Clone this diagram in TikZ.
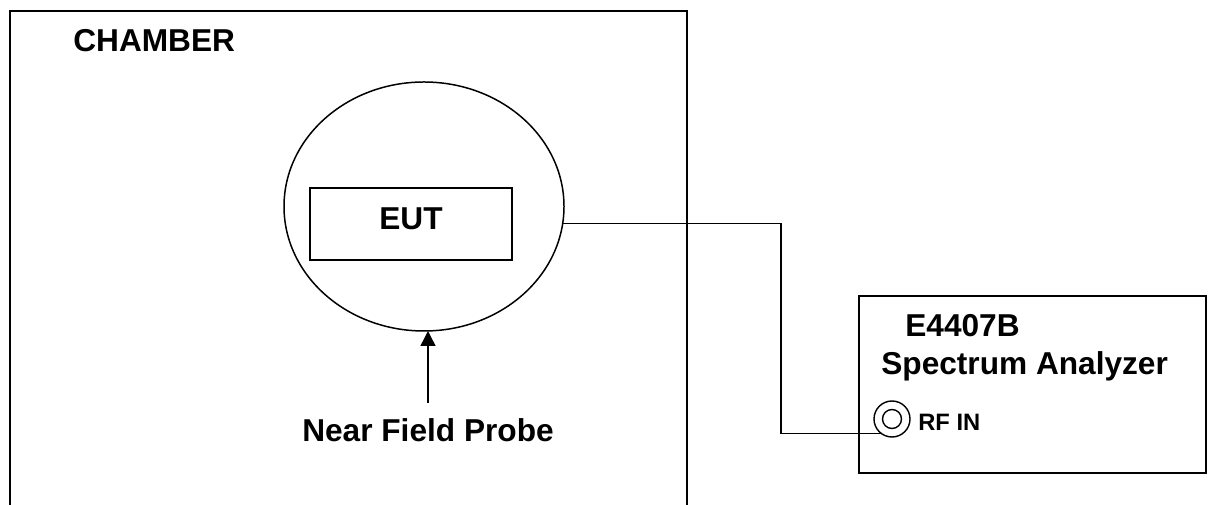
\documentclass[tikz,border=0pt]{standalone}
\usepackage{fontspec}
\setmainfont{Liberation Sans}
\usetikzlibrary{arrows.meta, positioning, shapes.geometric, calc}
\tikzset{
  wall/.style={line width=1.1pt, draw=black},
  probezone/.style={
    ellipse, draw=black, line width=0.85pt,
    minimum width=56mm, minimum height=49.8mm,
    inner sep=0pt, outer sep=0pt
  },
  eutbox/.style={
    rectangle, draw=black, line width=0.85pt,
    minimum width=40.4mm, minimum height=14.4mm,
    text depth=2mm, inner sep=0pt, outer sep=0pt
  },
  analyzer/.style={
    rectangle, draw=black, line width=1.1pt,
    minimum width=69.4mm, minimum height=35.4mm,
    inner sep=0pt, outer sep=0pt
  },
  jack/.style={circle, draw=black, line width=0.8pt, minimum size=7.2mm, inner sep=0pt, outer sep=0pt},
  jackpin/.style={circle, draw=black, line width=0.8pt, minimum size=3.8mm, inner sep=0pt},
  title/.style={anchor=base west, inner sep=0pt},
  small/.style={anchor=base west, inner sep=0pt, font=\fontsize{13.5}{16}\selectfont\bfseries},
  wire/.style={line width=0.8pt, draw=black},
  arrow/.style={-{Triangle[length=3mm,width=3mm]}, line width=0.8pt, draw=black},
}
\begin{document}
\begin{tikzpicture}[x=0.2mm, y=-0.2mm, font=\fontsize{18}{21}\selectfont\bfseries]
  \useasboundingbox (0,0) rectangle (1208,505);

  % chamber, open at the bottom
  \draw[wall] (10,505) -- (10,11) -- (687,11) -- (687,505);
  \node[title] (chamber) at (73,52) {CHAMBER};

  \node[probezone] (probe) at (424,206.5) {};
  \node[eutbox] (eut) at (411,224) {EUT};
  \node[anchor=base, inner sep=0pt] (probetext) at (428,442) {Near Field Probe};
  \draw[arrow] ([yshift=3.2mm]probetext.north) -- (probetext.north |- probe.south);

  % analyzer
  \node[analyzer] (sa) at (1032.5,384.5) {};
  \node[title] (model) at (905,337) {E4407B};
  \node[title] (satext) at (881,375) {Spectrum Analyzer};
  \node[jack] (rfin) at (892,419) {};
  \node[jackpin] at (rfin.center) {};
  \node[small] (rflabel) at (918,431) {RF IN};

  % cable
  \coordinate (bend) at (781,0);
  \draw[wire] (probe.-7.2) -| (bend |- rfin.-125) -- (rfin.-125);
\end{tikzpicture}
\end{document}
